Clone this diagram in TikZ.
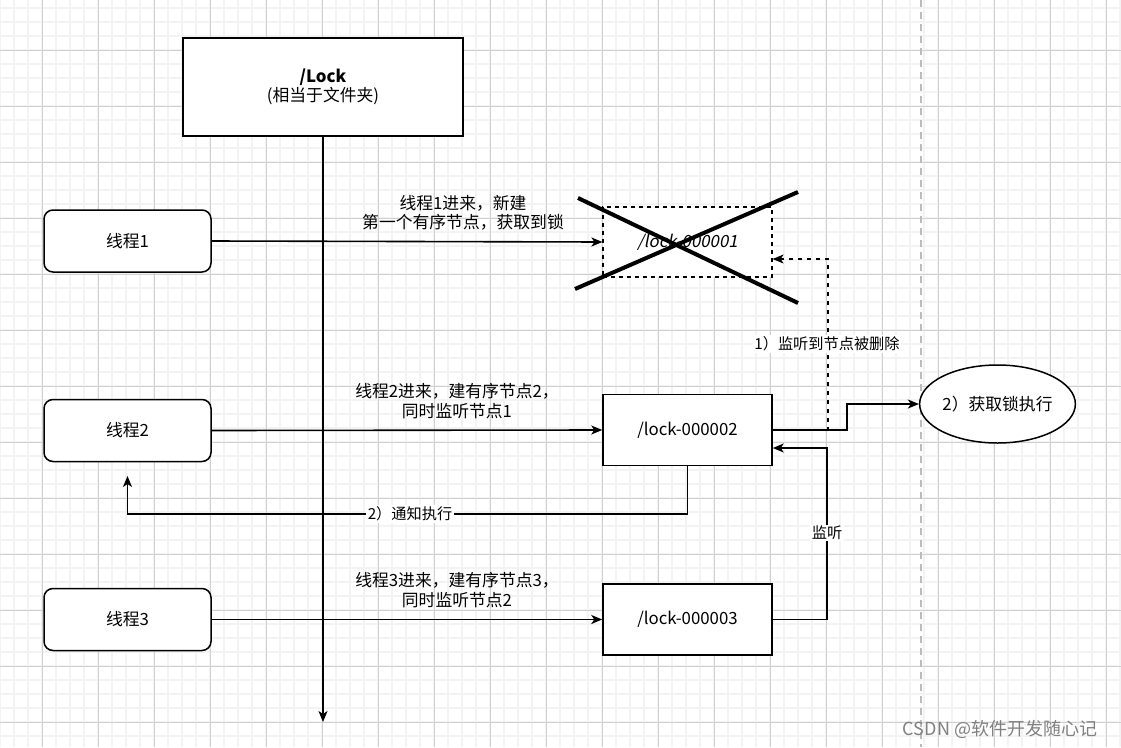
\documentclass[tikz,border=0pt]{standalone}
\usepackage{fontspec}
\setmainfont{Noto Sans CJK SC}
\newfontfamily\slantfont[FakeSlant=0.2]{Noto Sans CJK SC}
\usetikzlibrary{arrows.meta,shapes.geometric,calc}
\definecolor{gridminor}{HTML}{F3F3F3}
\definecolor{gridmajor}{HTML}{D0D0D0}
\definecolor{sepgray}{HTML}{BBBBBB}
\begin{document}
\begin{tikzpicture}[x=1pt,y=-1pt,
  bigfont/.style={font=\fontsize{16.8}{19.5}\selectfont},
  smallfont/.style={font=\fontsize{15.2}{18}\selectfont},
  box/.style={draw, line width=1.5pt, fill=white, align=center, inner sep=0pt, bigfont},
  thread/.style={box, rounded corners=9pt, minimum width=167pt, minimum height=62pt},
  lockbox/.style={box, minimum width=169pt, minimum height=71pt},
  tip/.style={-{Stealth[length=11pt,width=9pt,inset=3pt]}},
  conn/.style={line width=1.6pt, tip},
  dconn/.style={line width=1.2pt, dash pattern=on 4.5pt off 4.5pt, tip},
  lbl/.style={align=center, inner sep=1pt, bigfont},
  wlbl/.style={fill=white, inner sep=1.5pt, smallfont}
]
\useasboundingbox (0,0) rectangle (1121,747);
\fill[white] (0,0) rectangle (1121,747);
% grid
\foreach \x in {0,14,...,1120} \draw[gridminor, line width=1.3pt] (\x,0) -- (\x,747);
\foreach \y in {8,22,...,746} \draw[gridminor, line width=1.3pt] (0,\y) -- (1121,\y);
\foreach \x in {42,98,...,1120} \draw[gridmajor, line width=1pt] (\x,0) -- (\x,747);
\foreach \y in {50,106,...,746} \draw[gridmajor, line width=1pt] (0,\y) -- (1121,\y);
% separator
\draw[sepgray, line width=2pt, dash pattern=on 7pt off 5pt] (921,0) -- (921,747);

% top box and main axis
\node[box, minimum width=280pt, minimum height=98pt] (top) at (323,87) {{\bfseries /Lock}\\(相当于文件夹)};
\coordinate (axisend) at (323,722);
\draw[conn] (top.south) -- (axisend);

% threads
\node[thread] (t1) at (127.5,241) {线程1};
\node[thread] (t2) at (127.5,430.5) {线程2};
\node[thread] (t3) at (127.5,619.5) {线程3};

% lock nodes
\node[box, minimum width=169pt, minimum height=70pt, line width=1.2pt, dash pattern=on 4pt off 4pt, font=\fontsize{16.8}{19.5}\selectfont\slantfont] (l1) at (687.5,242) {/lock-000001};
\node[lockbox] (l2) at (687.5,430) {/lock-000002};
\node[lockbox] (l3) at (687.5,619.5) {/lock-000003};
\node[ellipse, draw, line width=1.5pt, fill=white, minimum width=153pt, minimum height=78pt, inner sep=0pt, bigfont] (ex) at (997.5,404) {2）获取锁执行};

% cross over lock1
\draw[line width=4pt] (578,198) -- (798,303);
\draw[line width=4pt] (575,289) -- (798,192);

% thread arrows
\draw[conn] (t1.east) -- (l1.west);
\draw[conn] (t2.east) -- (l2.west);
\draw[conn] (t3.east) -- (l3.west);
\node[lbl] (lab1) at (463,213) {线程1进来，新建\\第一个有序节点，获取到锁};
\node[lbl] (lab2) at (457,401) {线程2进来，建有序节点2，\\同时监听节点1};
\node[lbl] (lab3) at (457,590) {线程3进来，建有序节点3，\\同时监听节点2};

% lock2 -> ellipse
\coordinate (e1) at (847,430);
\draw[conn] (l2.east) -- (e1) |- (ex.west);

% dashed: lock2 watches lock1
\coordinate (d1) at (828,430);
\coordinate (d2) at (828,259);
\draw[dconn] (l2.east) -- (d1) -- (d2) -- (l1.east |- d2);
\node[wlbl] (lab4) at (827,344) {1）监听到节点被删除};

% lock3 watches lock2
\coordinate (w1) at (827,619.5);
\coordinate (w2) at (827,448);
\draw[conn] (l3.east) -- (w1) -- (w2) -- (l2.east |- w2);
\node[wlbl] (lab5) at (827,533) {监听};

% notify thread2
\coordinate (n1) at (687.5,514);
\coordinate (n2) at (127.5,514);
\coordinate (n3) at (127.5,476);
\draw[conn] (l2.south) -- (n1) -- (n2) -- (n3);
\node[wlbl] (lab6) at (410,514) {2）通知执行};

% watermark
\node[text=black!50, font=\fontsize{18}{20}\selectfont, inner sep=0pt] (wm) at (1000,729) {CSDN @软件开发随心记};
\end{tikzpicture}
\end{document}
